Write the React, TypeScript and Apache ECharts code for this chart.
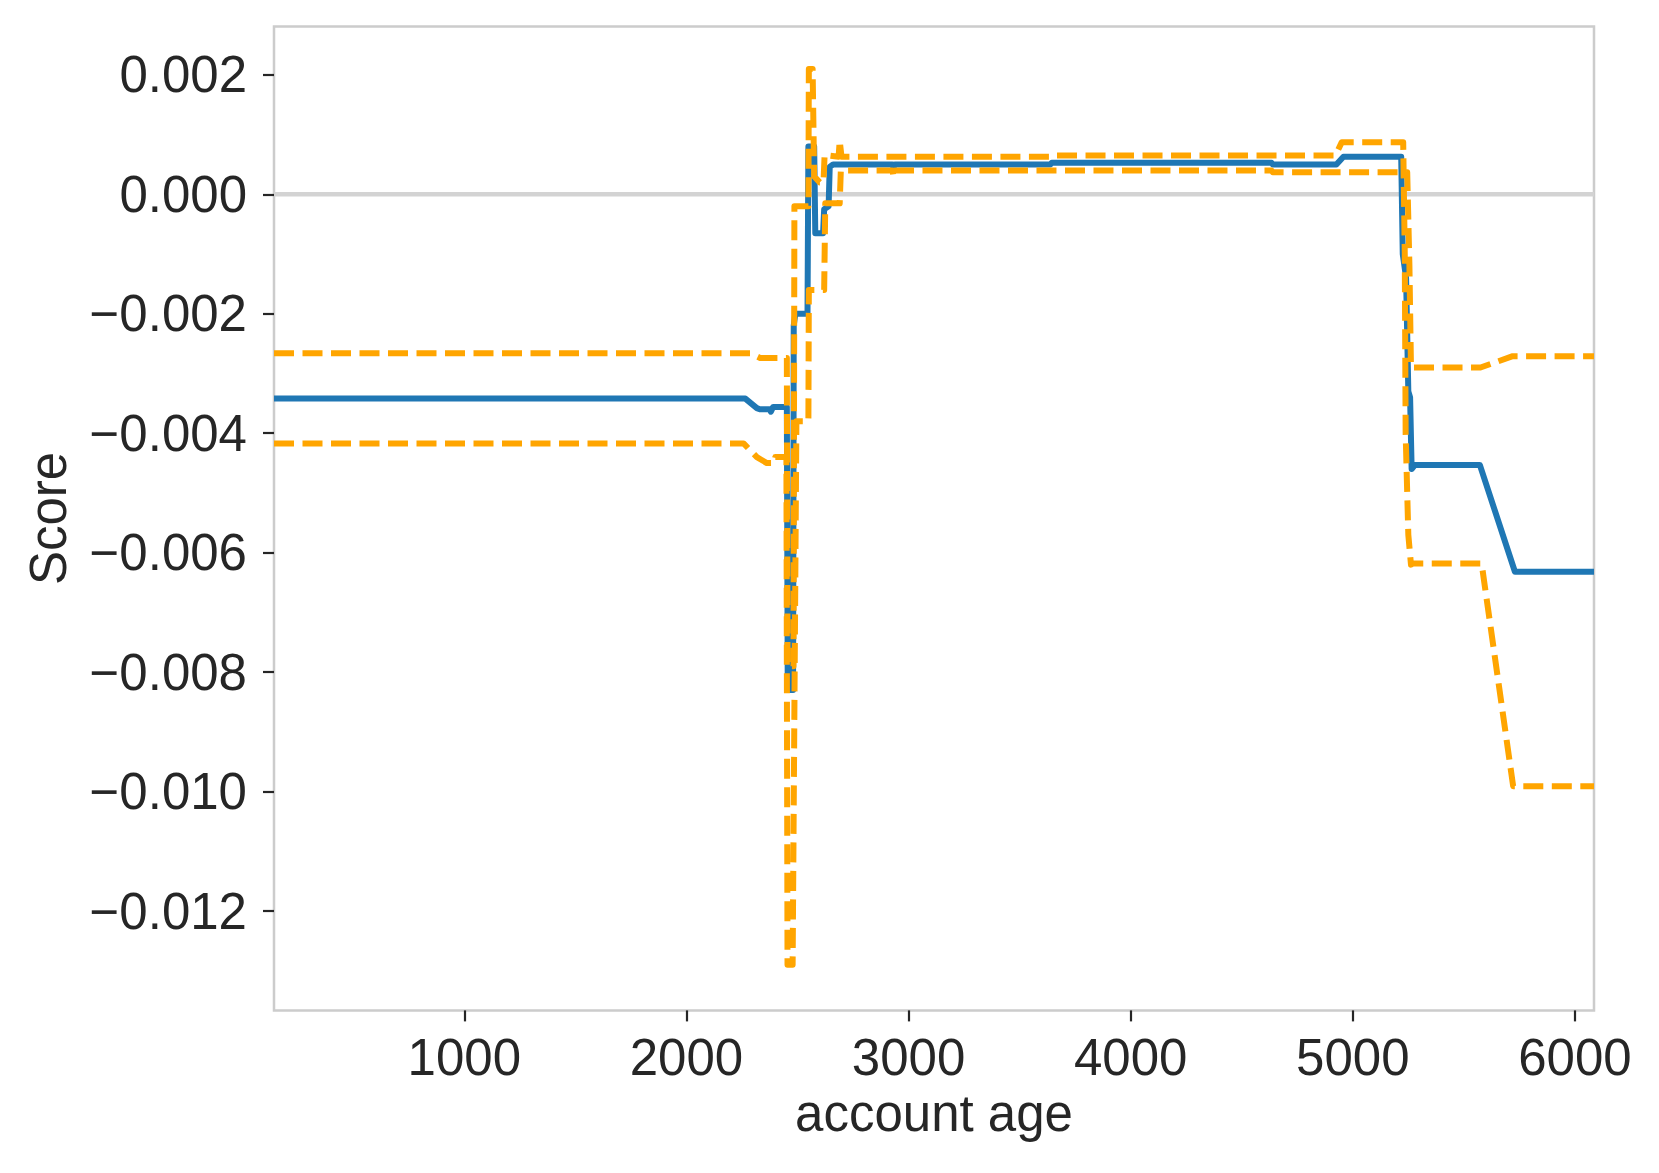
import { useEffect, useRef } from "react";
import * as echarts from "echarts";

// Axis extents and ticks
const X_MIN = 143;
const X_MAX = 6086;
const Y_MIN = -0.013664;
const Y_MAX = 0.00281;
const xTicks = [1000, 2000, 3000, 4000, 5000, 6000];
const yTicks = [-0.012, -0.01, -0.008, -0.006, -0.004, -0.002, 0, 0.002];

// Score (solid blue)
const scoreX = [
  143, 2265, 2317, 2330, 2375, 2380, 2390, 2452, 2456, 2480, 2483, 2490, 2545, 2549, 2575, 2580, 2615,
  2620, 2640, 2645, 2660, 2928, 2932, 2938, 3638, 3645, 4634, 4640, 4926, 4958, 5218, 5225, 5240, 5250,
  5258, 5265, 5280, 5572, 5730, 6086,
];
const scoreY = [
  -0.00342, -0.00342, -0.00358, -0.0036, -0.0036, -0.00364, -0.00356, -0.00356, -0.0083, -0.0083, -0.0022,
  -0.002, -0.002, 0.0008, 0.0008, -0.00065, -0.00065, -0.00025, -0.0002, 0.00046, 0.0005, 0.0005, 0.00044,
  0.0005, 0.0005, 0.00053, 0.00053, 0.0005, 0.0005, 0.00063, 0.00063, -0.001, -0.0014, -0.0033, -0.0034,
  -0.0046, -0.00453, -0.00453, -0.00632, -0.00632,
];

// Bound 1 (dashed orange, starts as the upper bound)
const bound1X = [
  143, 2287, 2332, 2452, 2455, 2482, 2486, 2549, 2551, 2568, 2575, 2600, 2617, 2622, 2685, 2690, 2698,
  3638, 3645, 4922, 4950, 5227, 5234, 5238, 5250, 5262, 5272, 5580, 5722, 6086,
];
const bound1Y = [
  -0.00266, -0.00266, -0.00274, -0.00274, -0.0079, -0.0079, -0.0002, -0.0002, 0.0021, 0.0021, 0.0003,
  0.0002, 0.0002, 0.00066, 0.00063, 0.0009, 0.00063, 0.00063, 0.00065, 0.00065, 0.00087, 0.00087, -0.001,
  -0.004, -0.0057, -0.0062, -0.00618, -0.00618, -0.00991, -0.00991,
];

// Bound 2 (dashed orange, starts as the lower bound)
const bound2X = [
  143, 2257, 2317, 2362, 2395, 2400, 2450, 2455, 2478, 2495, 2549, 2551, 2620, 2625, 2690, 2695, 2928,
  2932, 2938, 4634, 4640, 5245, 5255, 5262, 5275, 5575, 5720, 6086,
];
const bound2Y = [
  -0.00417, -0.00417, -0.0044, -0.0045, -0.0045, -0.0044, -0.0044, -0.0129, -0.0129, -0.0038, -0.0038,
  -0.0016, -0.0016, -0.00015, -0.00015, 0.0004, 0.0004, 0.00029, 0.0004, 0.0004, 0.00037, 0.00037,
  -0.0012, -0.0029, -0.0029, -0.0029, -0.00271, -0.00271,
];

const zip = (xs: number[], ys: number[]) => xs.map((x, i) => [x, ys[i]]);

const FONT = '"Liberation Sans", Arial, Helvetica, sans-serif';
const TEXT = "#262626";

const fmtY = (v: number) => {
  if (Math.abs(v) < 1e-12) return "0.000";
  return (v < 0 ? "\u2212" : "") + Math.abs(v).toFixed(3);
};

export default function App() {
  const ref = useRef<HTMLDivElement>(null);
  useEffect(() => {
    if (!ref.current) return;
    const chart = echarts.init(ref.current, undefined, { renderer: "svg" });
    const dashed = {
      color: "#FFA500",
      width: 6,
      type: [20, 8.5] as any,
      cap: "butt" as const,
      join: "round" as const,
    };
    chart.setOption({
      animation: false,
      backgroundColor: "#ffffff",
      grid: {
        left: 274,
        right: 65,
        top: 26.5,
        bottom: 162.6,
        show: true,
        borderColor: "#cccccc",
        borderWidth: 2.5,
        backgroundColor: "transparent",
        containLabel: false,
        outerBoundsMode: "none",
      },
      xAxis: {
        type: "value",
        min: X_MIN,
        max: X_MAX,
        name: "account age",
        nameLocation: "middle",
        nameGap: 78,
        nameTextStyle: { fontFamily: FONT, fontSize: 51, color: TEXT },
        axisLine: { show: false, onZero: false },
        splitLine: { show: false },
        axisTick: {
          show: true,
          length: 11,
          lineStyle: { color: TEXT, width: 2.2 },
          customValues: xTicks,
        },
        axisLabel: {
          show: true,
          margin: 22,
          fontFamily: FONT,
          fontSize: 51,
          color: TEXT,
          customValues: xTicks,
          formatter: (v: number) => String(Math.round(v)),
        },
      },
      yAxis: {
        type: "value",
        min: Y_MIN,
        max: Y_MAX,
        name: "Score",
        nameLocation: "middle",
        nameRotate: 90,
        nameGap: 200,
        nameTextStyle: { fontFamily: FONT, fontSize: 51, color: TEXT },
        axisLine: { show: false, onZero: false },
        splitLine: { show: false },
        axisTick: {
          show: true,
          length: 11,
          lineStyle: { color: TEXT, width: 2.2 },
          customValues: yTicks,
        },
        axisLabel: {
          show: true,
          margin: 27,
          fontFamily: FONT,
          fontSize: 51,
          color: TEXT,
          customValues: yTicks,
          formatter: fmtY,
        },
      },
      series: [
        {
          name: "zero",
          type: "line",
          z: 1,
          silent: true,
          symbol: "none",
          data: [
            [X_MIN, 0],
            [X_MAX, 0],
          ],
          lineStyle: { color: "#d3d3d3", width: 4.5 },
        },
        {
          name: "score",
          type: "line",
          z: 2,
          symbol: "none",
          data: zip(scoreX, scoreY),
          lineStyle: { color: "#1f77b4", width: 6, join: "round" },
        },
        {
          name: "bound1",
          type: "line",
          z: 3,
          symbol: "none",
          data: zip(bound1X, bound1Y),
          lineStyle: dashed,
        },
        {
          name: "bound2",
          type: "line",
          z: 4,
          symbol: "none",
          data: zip(bound2X, bound2Y),
          lineStyle: dashed,
        },
      ],
    });
    return () => chart.dispose();
  }, []);
  return (
    <div
      ref={ref}
      style={{ position: "absolute", left: 0, top: 0, width: 1659, height: 1173, background: "#fff" }}
    />
  );
}
